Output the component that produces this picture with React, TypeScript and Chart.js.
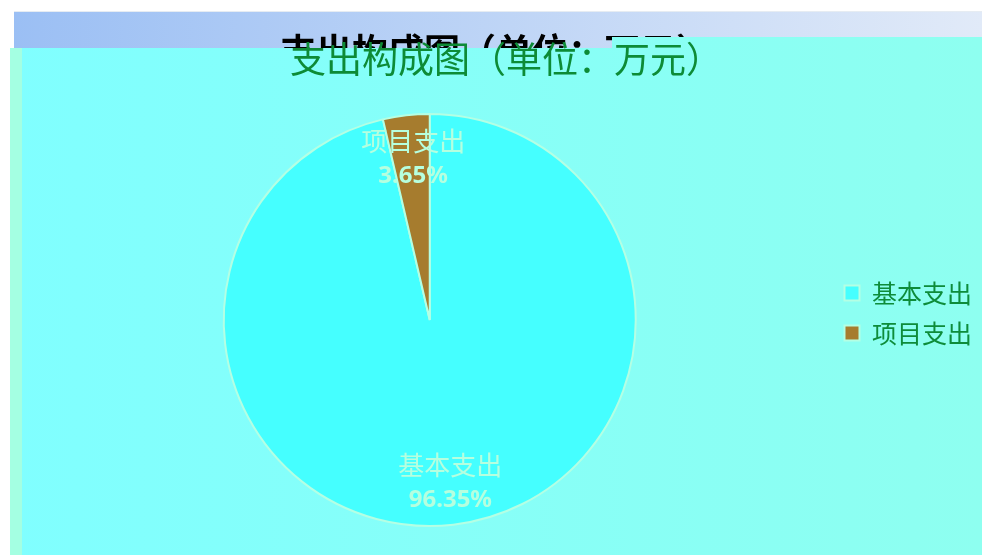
import React, { useEffect, useRef } from "react";
import { Chart, registerables } from "chart.js";

Chart.register(...registerables);

const TITLE = "支出构成图（单位：万元）";
const categories = ["基本支出", "项目支出"];
const values = [96.35, 3.65];
const sliceColors = ["#45ffff", "#a67c2e"];

const CJK = '"Noto Sans CJK SC", "Noto Sans", sans-serif';

const backgroundPlugin = {
  id: "slideBackground",
  beforeDraw(chart: any) {
    const ctx = chart.ctx as CanvasRenderingContext2D;
    const W = chart.width;
    const H = chart.height;
    ctx.save();
    ctx.fillStyle = "#ffffff";
    ctx.fillRect(0, 0, W, H);
    // gradient header band
    const g = ctx.createLinearGradient(14, 0, W, 0);
    g.addColorStop(0, "#9bbff4");
    g.addColorStop(1, "#e1eaf8");
    ctx.fillStyle = g;
    ctx.fillRect(14, 11, W - 14, 37);
    ctx.fillStyle = "#e6ecf2";
    ctx.fillRect(14, 11, W - 14, 1);
    // black (hidden) title
    ctx.font = `bold 36px ${CJK}`;
    ctx.fillStyle = "#000000";
    ctx.textAlign = "center";
    ctx.textBaseline = "middle";
    ctx.fillText(TITLE, 496, 51);
    // cyan panel
    const pg = ctx.createLinearGradient(10, 0, W, 0);
    pg.addColorStop(0, "#80ffff");
    pg.addColorStop(1, "#8efff0");
    ctx.fillStyle = pg;
    ctx.beginPath();
    ctx.moveTo(10, 48);
    ctx.lineTo(612, 48);
    ctx.lineTo(612, 37);
    ctx.lineTo(W, 37);
    ctx.lineTo(W, H);
    ctx.lineTo(10, H);
    ctx.closePath();
    ctx.fill();
    ctx.fillStyle = "#a4ffe2";
    ctx.fillRect(10, 48, 12, H - 48);
    ctx.restore();
  },
};

const sliceLabelPlugin = {
  id: "sliceLabels",
  afterDatasetsDraw(chart: any) {
    const ctx = chart.ctx as CanvasRenderingContext2D;
    const meta = chart.getDatasetMeta(0);
    const data = chart.data.datasets[0].data as number[];
    const total = data.reduce((a, b) => a + b, 0);
    ctx.save();
    ctx.textAlign = "center";
    ctx.textBaseline = "middle";
    ctx.fillStyle = "#b6ffdf";
    meta.data.forEach((arc: any, i: number) => {
      const p = arc.getProps(["x", "y", "startAngle", "endAngle", "outerRadius"], true);
      const mid = (p.startAngle + p.endAngle) / 2;
      const r = p.outerRadius * 0.79;
      const cx = p.x + Math.cos(mid) * r + 2;
      const cy = p.y + Math.sin(mid) * r;
      ctx.font = `26px ${CJK}`;
      ctx.fillText(String(chart.data.labels[i]), cx, cy - 17);
      ctx.font = `bold 24px "Noto Sans", sans-serif`;
      ctx.fillText(((data[i] / total) * 100).toFixed(2) + "%", cx, cy + 18);
    });
    ctx.restore();
  },
};

export default function App() {
  const ref = useRef<HTMLCanvasElement>(null);
  useEffect(() => {
    if (!ref.current) return;
    const chart = new Chart(ref.current, {
      type: "pie",
      data: {
        labels: categories,
        datasets: [
          {
            data: values,
            backgroundColor: sliceColors,
            borderColor: "#b4ffe4",
            borderWidth: 2,
          },
        ],
      },
      options: {
        responsive: false,
        animation: false,
        events: [],
        layout: { padding: { left: 30, right: 0, top: 0, bottom: 28 } },
        plugins: {
          tooltip: { enabled: false },
          title: {
            display: true,
            text: TITLE,
            color: "#0d8b36",
            font: { family: CJK, size: 36, weight: "normal", lineHeight: 1.2 },
            padding: { top: 38, bottom: 31.8 },
          },
          legend: {
            position: "right",
            align: "start",
            fullSize: false,
            title: {
              display: true,
              text: " ",
              color: "rgba(0,0,0,0)",
              font: { size: 10, lineHeight: 1 },
              padding: { top: 142.5, bottom: 0 },
            },
            labels: {
              boxWidth: 15,
              boxHeight: 15,
              padding: 15,
              color: "#0e8c3a",
              font: { family: CJK, size: 25 },
            },
          },
        },
      },
      plugins: [backgroundPlugin, sliceLabelPlugin],
    });
    return () => chart.destroy();
  }, []);
  return (
    <div style={{ position: "fixed", left: 0, top: 0, width: 982, height: 555 }}>
      <canvas ref={ref} width={982} height={555} style={{ display: "block" }} />
    </div>
  );
}
